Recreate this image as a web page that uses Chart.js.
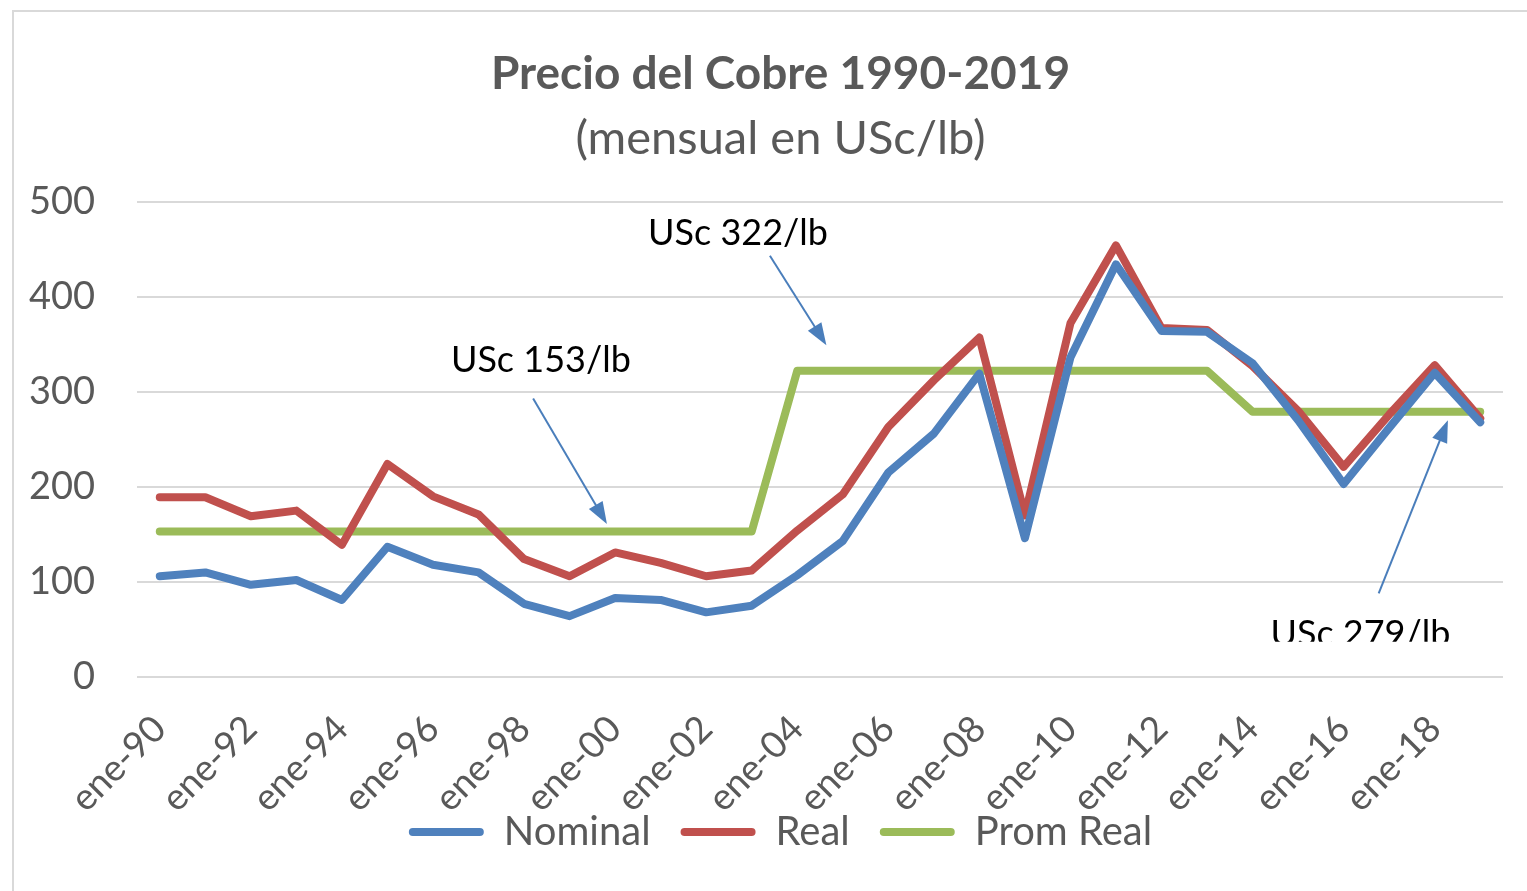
<!DOCTYPE html>
<html>
<head>
<meta charset="utf-8">
<script src="https://cdn.jsdelivr.net/npm/chart.js@4"></script>
<style>
    body { margin: 0; background: #fff; overflow: hidden; }
    #frame { position: absolute; left: 12px; top: 10px; width: 1540px; height: 900px;
             border-left: 2px solid #d9d9d9; border-top: 2px solid #d9d9d9; }
    #copper { position: absolute; left: 0; top: 0; }
</style>
</head>
<body>
<div id="frame"></div>
<canvas id="copper" width="1527" height="891"></canvas>
<script>
const labels = ['ene-90','ene-91','ene-92','ene-93','ene-94','ene-95','ene-96','ene-97','ene-98','ene-99',
                'ene-00','ene-01','ene-02','ene-03','ene-04','ene-05','ene-06','ene-07','ene-08','ene-09',
                'ene-10','ene-11','ene-12','ene-13','ene-14','ene-15','ene-16','ene-17','ene-18','ene-19'];
const nominal = [106, 110, 97, 102, 81, 137, 118, 110, 77, 64,
                 83, 81, 68, 75, 107, 143, 215, 256, 319, 146,
                 336, 434, 364, 363, 330, 270, 203, 262, 320, 268];
const real = [189, 189, 169, 175, 139, 224, 190, 171, 124, 106,
              131, 120, 106, 112, 154, 192, 263, 312, 357, 170,
              372, 454, 367, 365, 327, 280, 221, 276, 328, 272];
const promReal = [153, 153, 153, 153, 153, 153, 153, 153, 153, 153, 153, 153, 153, 153,
                  322, 322, 322, 322, 322, 322, 322, 322, 322, 322,
                  279, 279, 279, 279, 279, 279];
const yTicks = [0, 100, 200, 300, 400, 500];

// callouts: text position and arrow, in category index / value units
const callouts = [
    { text: 'USc 322/lb', x: 12.7, y: 467, from: [13.4, 443], to: [14.64, 349] },
    { text: 'USc 153/lb', x: 8.37, y: 333, from: [8.2, 293], to: [9.82, 161] },
    { text: 'USc 279/lb', x: 26.37, y: 45, from: [26.77, 88], to: [28.29, 270], cutBelow: 37 }
];

const fontFamily = 'Lato, "Open Sans", sans-serif';
const grey = '#595959';

const calloutPlugin = {
    id: 'callouts',
    afterDatasetsDraw(chart) {
        const ctx = chart.ctx;
        const xs = chart.scales.x, ys = chart.scales.y;
        callouts.forEach(c => {
            ctx.save();
            if (c.cutBelow !== undefined) {
                ctx.beginPath();
                ctx.rect(0, 0, chart.width, ys.getPixelForValue(c.cutBelow));
                ctx.clip();
            }
            ctx.font = '36px ' + fontFamily;
            ctx.fillStyle = '#000';
            ctx.textAlign = 'center';
            ctx.textBaseline = 'middle';
            ctx.fillText(c.text, xs.getPixelForValue(c.x), ys.getPixelForValue(c.y));
            ctx.restore();

            const x1 = xs.getPixelForValue(c.from[0]), y1 = ys.getPixelForValue(c.from[1]);
            const x2 = xs.getPixelForValue(c.to[0]), y2 = ys.getPixelForValue(c.to[1]);
            const ang = Math.atan2(y2 - y1, x2 - x1);
            const headLen = 22, headHalf = 8;
            ctx.save();
            ctx.strokeStyle = '#4a7ebb';
            ctx.fillStyle = '#4a7ebb';
            ctx.lineWidth = 2;
            ctx.beginPath();
            ctx.moveTo(x1, y1);
            ctx.lineTo(x2 - Math.cos(ang) * headLen * 0.8, y2 - Math.sin(ang) * headLen * 0.8);
            ctx.stroke();
            ctx.beginPath();
            ctx.moveTo(x2, y2);
            ctx.lineTo(x2 - Math.cos(ang) * headLen - Math.sin(ang) * headHalf,
                       y2 - Math.sin(ang) * headLen + Math.cos(ang) * headHalf);
            ctx.lineTo(x2 - Math.cos(ang) * headLen + Math.sin(ang) * headHalf,
                       y2 - Math.sin(ang) * headLen - Math.cos(ang) * headHalf);
            ctx.closePath();
            ctx.fill();
            ctx.restore();
        });
    }
};

// the original chart box runs past the window's right edge, so titles and
// legend sit a little right of the canvas centre
const recenterPlugin = {
    id: 'recenter',
    afterLayout(chart) {
        chart.boxes.forEach(b => {
            if (!b.axis) b.left += 38;
        });
    }
};

function lineSet(label, data, color) {
    return {
        label: label,
        data: data,
        borderColor: color,
        backgroundColor: color,
        borderWidth: 8,
        pointRadius: 0,
        tension: 0,
        borderJoinStyle: 'round',
        borderCapStyle: 'round'
    };
}

const ctx = document.getElementById('copper').getContext('2d');
new Chart(ctx, {
    type: 'line',
    data: {
        labels: labels,
        datasets: [
            lineSet('Nominal', nominal, '#4f81bd'),
            lineSet('Real', real, '#c0504d'),
            lineSet('Prom Real', promReal, '#9bbb59')
        ]
    },
    options: {
        responsive: false,
        animation: false,
        devicePixelRatio: 1,
        layout: { padding: { top: 10, left: 20, right: 24, bottom: 29 } },
        plugins: {
            title: {
                display: true,
                text: 'Precio del Cobre 1990-2019',
                color: grey,
                font: { family: fontFamily, size: 46, weight: 'bold', lineHeight: 1.2 },
                padding: { top: 37, bottom: 0 }
            },
            subtitle: {
                display: true,
                text: '(mensual en USc/lb)',
                color: grey,
                font: { family: fontFamily, size: 47, lineHeight: 1.2 },
                padding: { top: 8, bottom: 35 }
            },
            legend: {
                position: 'bottom',
                labels: {
                    color: grey,
                    font: { family: fontFamily, size: 40 },
                    boxWidth: 75,
                    boxHeight: 8,
                    padding: 0,
                    useBorderRadius: true,
                    generateLabels(chart) {
                        const sets = chart.data.datasets;
                        return sets.map((d, i) => ({
                            // em space keeps the gap between legend entries
                            text: i < sets.length - 1 ? d.label + '\u2003' : d.label,
                            fillStyle: d.borderColor,
                            strokeStyle: d.borderColor,
                            lineWidth: 0,
                            borderRadius: 4,
                            fontColor: grey,
                            hidden: false,
                            datasetIndex: i
                        }));
                    }
                }
            },
            tooltip: { enabled: false }
        },
        scales: {
            x: {
                offset: true,
                grid: { display: false },
                border: { display: false },
                ticks: {
                    autoSkip: false,
                    minRotation: 45,
                    maxRotation: 45,
                    padding: 22,
                    color: grey,
                    font: { family: fontFamily, size: 37 },
                    callback: (v, i) => (i % 2 === 0 ? labels[i] : '')
                },
                afterFit: s => { s.height = 135; s.paddingLeft = 0; s.paddingRight = 0; }
            },
            y: {
                min: yTicks[0],
                max: yTicks[yTicks.length - 1],
                afterBuildTicks: s => { s.ticks = yTicks.map(v => ({ value: v })); },
                grid: { color: '#d9d9d9', lineWidth: 2, drawTicks: false },
                border: { display: false },
                ticks: {
                    padding: 42,
                    color: grey,
                    font: { family: fontFamily, size: 38 }
                },
                afterFit: s => { s.width = 117; }
            }
        }
    },
    plugins: [calloutPlugin, recenterPlugin]
});
</script>
</body>
</html>
